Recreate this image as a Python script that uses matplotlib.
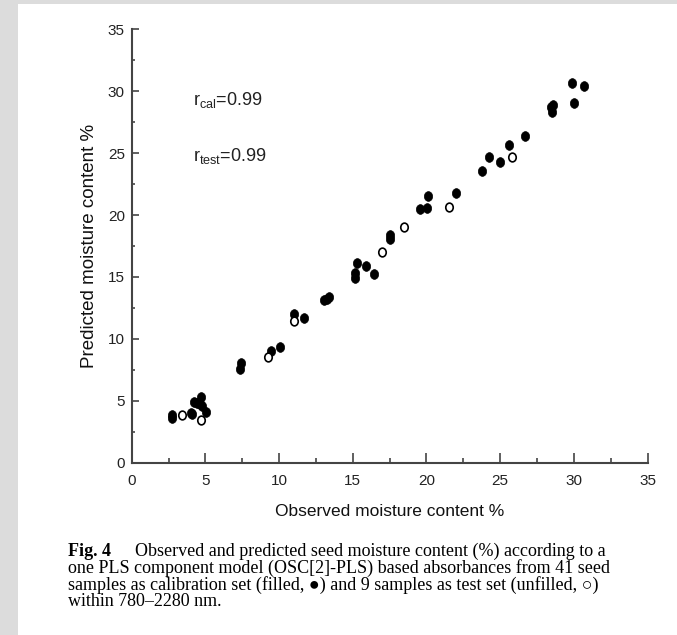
import matplotlib
matplotlib.use("Agg")
import matplotlib.pyplot as plt
from matplotlib.markers import MarkerStyle
from matplotlib.transforms import Affine2D
from matplotlib.patches import Rectangle

# calibration set (filled) - observed vs predicted moisture %
obs_cal = [2.72, 2.75, 4.03, 4.10, 4.24, 4.46, 4.64, 4.71, 4.75, 5.03,
           7.36, 7.43, 9.45, 10.04, 11.03, 11.67, 13.07, 13.37, 13.25,
           15.30, 15.18, 15.18, 15.93, 16.47, 17.51, 17.56,
           19.53, 20.05, 20.12, 21.98, 23.79, 24.27, 24.99, 25.58, 26.72,
           28.44, 28.50, 28.62, 29.91, 30.66, 30.02]
pred_cal = [3.85, 3.62, 4.04, 3.92, 4.93, 4.85, 4.74, 5.33, 4.55, 4.07,
            7.54, 8.08, 9.05, 9.32, 11.99, 11.66, 13.14, 13.41, 13.25,
            16.16, 15.35, 14.94, 15.89, 15.24, 18.39, 18.04,
            20.47, 20.60, 21.57, 21.76, 23.56, 24.67, 24.27, 25.66, 26.39,
            28.76, 28.35, 28.89, 30.70, 30.43, 29.03]

# test set (unfilled)
obs_test = [3.40, 4.71, 9.22, 11.03, 17.00, 18.46, 21.50, 25.83]
pred_test = [3.85, 3.45, 8.56, 11.45, 16.99, 19.00, 20.68, 24.67]

x_ticks = [0, 5, 10, 15, 20, 25, 30, 35]
y_ticks = [0, 5, 10, 15, 20, 25, 30, 35]

caption_lines = [
    "one PLS component model (OSC[2]-PLS) based absorbances from 41 seed",
    "samples as calibration set (filled, \u25CF) and 9 samples as test set (unfilled, \u25CB)",
    "within 780\u20132280 nm.",
]

plt.rcParams["font.family"] = ["Liberation Sans", "DejaVu Sans"]
plt.rcParams["mathtext.fontset"] = "custom"
plt.rcParams["mathtext.rm"] = "Liberation Sans"

W, H = 677, 635
fig = plt.figure(figsize=(W / 100, H / 100), dpi=100)
fig.patch.set_facecolor("white")

# grey page border (left and top)
fig.patches.append(Rectangle((0, 0), 18 / W, 1, transform=fig.transFigure,
                             facecolor="#dcdcdc", edgecolor="none", zorder=0))
fig.patches.append(Rectangle((0, 1 - 4 / H), 1, 4 / H, transform=fig.transFigure,
                             facecolor="#dcdcdc", edgecolor="none", zorder=0))

ax = fig.add_axes([131.7 / W, 1 - 462.7 / H, 515.8 / W, 433.4 / H])
ax.set_xlim(0, 35)
ax.set_ylim(0, 35)

ell = MarkerStyle("o", transform=Affine2D().scale(0.85, 1.0))
ax.plot(obs_cal, pred_cal, linestyle="none", marker=ell, markersize=7,
        markerfacecolor="black", markeredgecolor="black", markeredgewidth=0.5)
ax.plot(obs_test, pred_test, linestyle="none", marker=ell, markersize=6.3,
        markerfacecolor="white", markeredgecolor="black", markeredgewidth=1.2)

for s in ["top", "right"]:
    ax.spines[s].set_visible(False)
for s in ["left", "bottom"]:
    ax.spines[s].set_color("#444444")
    ax.spines[s].set_linewidth(1.5)

ax.set_xticks(x_ticks)
ax.set_yticks(y_ticks)
ax.set_xticks([2.5 + 5 * i for i in range(7)], minor=True)
ax.set_yticks([2.5 + 5 * i for i in range(7)], minor=True)
ax.tick_params(axis="x", which="major", direction="in", length=7.5, width=1.2,
               color="#444444", pad=8, labelsize=11, labelcolor="#222222")
ax.tick_params(axis="x", which="minor", direction="in", length=3.8, width=1.2,
               color="#444444")
ax.tick_params(axis="y", which="major", direction="in", length=5, width=1.2,
               color="#444444", pad=5, labelsize=11, labelcolor="#222222")
ax.tick_params(axis="y", which="minor", direction="in", length=2.5, width=1.2,
               color="#444444")

ax.set_xlabel("Observed moisture content %", fontsize=12.5, color="#111111", labelpad=12)
ax.set_ylabel("Predicted moisture content %", fontsize=13.5, color="#111111", labelpad=7)

ax.text(4.15, 29.3, r"$\mathregular{r_{cal}}$=0.99", fontsize=13, va="center",
        color="#222222", transform=ax.transData)
ax.text(4.15, 24.8, r"$\mathregular{r_{test}}$=0.99", fontsize=13, va="center",
        color="#222222", transform=ax.transData)

serif = ["Liberation Serif", "DejaVu Serif"]
cap_size = 13
fig.text(68 / W, 1 - 551 / H, "Fig. 4", family=serif, fontweight="bold",
         fontsize=cap_size, va="center")
fig.text(135 / W, 1 - 551 / H,
         "Observed and predicted seed moisture content (%) according to a",
         family=serif, fontsize=cap_size, va="center")
for i, line in enumerate(caption_lines):
    fig.text(68 / W, 1 - (568 + 17 * i) / H, line, family=serif,
             fontsize=cap_size, va="center")

fig.savefig("out.png", dpi=100)
